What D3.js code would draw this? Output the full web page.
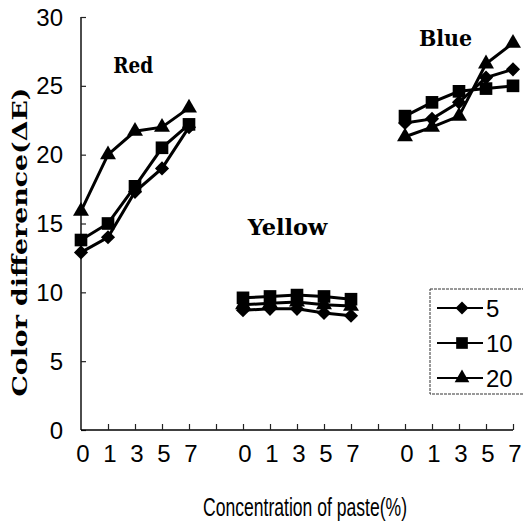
<!DOCTYPE html>
<html>
<head>
<meta charset="utf-8">
<script src="https://cdn.jsdelivr.net/npm/d3@7/dist/d3.min.js"></script>
<style>
  body { margin: 0; background: #fff; }
  svg { display: block; }
</style>
</head>
<body>
<div id="chart"></div>
<script>
// groups along the x axis and the paste concentrations within each
var groups = ["Red", "Yellow", "Blue"];
var concentrations = ["0", "1", "3", "5", "7"];
var seriesNames = ["5", "10", "20"];

// color difference values per group, one array per series (5, 10, 20)
var red5    = [12.9, 14.0, 17.3, 19.0, 22.0];
var red10   = [13.8, 15.0, 17.7, 20.5, 22.2];
var red20   = [15.9, 20.0, 21.7, 22.0, 23.4];
var yellow5  = [8.7, 8.8, 8.8, 8.5, 8.3];
var yellow10 = [9.6, 9.7, 9.8, 9.7, 9.5];
var yellow20 = [9.1, 9.2, 9.3, 9.1, 9.0];
var blue5   = [22.3, 22.6, 23.8, 25.6, 26.2];
var blue10  = [22.8, 23.8, 24.6, 24.8, 25.0];
var blue20  = [21.3, 22.0, 22.8, 26.6, 28.1];

var yTicks = [0, 5, 10, 15, 20, 25, 30];

// where the group names sit, in axis units (slot index, value)
var groupLabelPos = [[1.93, 25.9], [7.65, 14.2], [13.5, 27.9]];

var W = 523, H = 521;
var slotsPerGroup = 6;

var svg = d3.select("#chart").append("svg")
    .attr("width", W)
    .attr("height", H);

var x = d3.scaleLinear().domain([0, 16]).range([81, 513]);
var y = d3.scaleLinear().domain([0, 30]).range([430, 17]);

var byGroup = [[red5, red10, red20], [yellow5, yellow10, yellow20], [blue5, blue10, blue20]];

var series = seriesNames.map(function(name, s) {
    return {
        name: name,
        groups: groups.map(function(g, gi) {
            return byGroup[gi][s].map(function(v, i) {
                return {idx: gi * slotsPerGroup + i, value: v};
            });
        })
    };
});

var sans = "Liberation Sans, Arial, sans-serif";
var serif = "DejaVu Serif, Liberation Serif, serif";

// y axis, ticks pointing inward
var yAxis = d3.axisRight(y).tickValues(yTicks).tickSize(5).tickFormat("");
var yg = svg.append("g").attr("transform", "translate(" + x(0) + ",0)").call(yAxis);
yg.select(".domain").attr("stroke", "#000").attr("stroke-width", 1.4).attr("d", "M0," + y(30) + "V" + y(0));
yg.selectAll(".tick line").attr("stroke", "#222").attr("stroke-width", 1.2);

svg.append("g").selectAll("text")
    .data(yTicks)
    .enter().append("text")
    .attr("x", 63)
    .attr("y", function(d) { return y(d); })
    .attr("dy", "0.36em")
    .attr("text-anchor", "end")
    .style("font-family", sans)
    .style("font-size", "24px")
    .text(function(d) { return d; });

// x axis: 16 slots, ticks pointing inward
var xAxis = d3.axisTop(x).tickValues(d3.range(1, 17)).tickSize(6).tickFormat("");
var xg = svg.append("g").attr("transform", "translate(0," + y(0) + ")").call(xAxis);
xg.select(".domain").attr("stroke", "#000").attr("stroke-width", 1.4).attr("d", "M" + x(0) + ",0H" + x(16));
xg.selectAll(".tick line").attr("stroke", "#222").attr("stroke-width", 1.2);

var xLabels = [];
groups.forEach(function(g, gi) {
    concentrations.forEach(function(c, i) {
        xLabels.push({idx: gi * slotsPerGroup + i, text: c});
    });
});
svg.append("g").selectAll("text")
    .data(xLabels)
    .enter().append("text")
    .attr("x", function(d) { return x(d.idx) + 2; })
    .attr("y", 462)
    .attr("text-anchor", "middle")
    .style("font-family", sans)
    .style("font-size", "24px")
    .text(function(d) { return d.text; });

// axis titles
svg.append("text")
    .attr("x", 305)
    .attr("y", 516)
    .attr("text-anchor", "middle")
    .attr("textLength", 204)
    .attr("lengthAdjust", "spacingAndGlyphs")
    .style("font-family", sans)
    .style("font-size", "25px")
    .text("Concentration of paste(%)");

svg.append("text")
    .attr("transform", "translate(27,242) rotate(-90)")
    .attr("text-anchor", "middle")
    .attr("textLength", 309)
    .attr("lengthAdjust", "spacingAndGlyphs")
    .style("font-family", serif)
    .style("font-weight", "bold")
    .style("font-size", "21px")
    .text("Color difference(\u0394E)");

// group names
svg.append("g").selectAll("text")
    .data(groups)
    .enter().append("text")
    .attr("x", function(d, i) { return x(groupLabelPos[i][0]); })
    .attr("y", function(d, i) { return y(groupLabelPos[i][1]); })
    .attr("text-anchor", "middle")
    .attr("textLength", function(d) { return d.length * 13.3; })
    .attr("lengthAdjust", "spacingAndGlyphs")
    .style("font-family", serif)
    .style("font-weight", "bold")
    .style("font-size", "22px")
    .text(function(d) { return d; });

// markers
var shapes = [
    {type: d3.symbolSquare, size: 100, rotate: 45},
    {type: d3.symbolSquare, size: 160, rotate: 0},
    {type: d3.symbolTriangle, size: 110, rotate: 0}
];
function marker(s, scale) {
    return d3.symbol().type(shapes[s].type).size(shapes[s].size * (scale || 1))();
}

var line = d3.line()
    .x(function(d) { return x(d.idx); })
    .y(function(d) { return y(d.value); });

series.forEach(function(ser, s) {
    var g = svg.append("g").attr("class", "series");
    g.selectAll("path.line")
        .data(ser.groups)
        .enter().append("path")
        .attr("class", "line")
        .attr("d", line)
        .attr("fill", "none")
        .attr("stroke", "#000")
        .attr("stroke-width", 3);
    var pts = [].concat.apply([], ser.groups);
    g.selectAll("path.pt")
        .data(pts)
        .enter().append("path")
        .attr("class", "pt")
        .attr("d", marker(s))
        .attr("transform", function(d) {
            return "translate(" + x(d.idx) + "," + y(d.value) + ") rotate(" + shapes[s].rotate + ")";
        })
        .attr("fill", "#000");
});

// legend
var legend = svg.append("g").attr("transform", "translate(430,289)");
legend.append("rect")
    .attr("width", 110)
    .attr("height", 105)
    .attr("fill", "#fff")
    .attr("stroke", "#333")
    .attr("stroke-width", 1)
    .attr("stroke-dasharray", "3,1");
var li = legend.selectAll("g.item")
    .data(seriesNames)
    .enter().append("g")
    .attr("class", "item")
    .attr("transform", function(d, i) { return "translate(0," + (19 + i * 35) + ")"; });
li.append("line")
    .attr("x1", 7).attr("x2", 53)
    .attr("stroke", "#000").attr("stroke-width", 2);
li.append("path")
    .attr("d", function(d, i) { return marker(i, 0.85); })
    .attr("transform", function(d, i) { return "translate(32,0) rotate(" + shapes[i].rotate + ")"; })
    .attr("fill", "#000");
li.append("text")
    .attr("x", 56)
    .attr("dy", "0.36em")
    .style("font-family", sans)
    .style("font-size", "24px")
    .text(function(d) { return d; });
</script>
</body>
</html>
